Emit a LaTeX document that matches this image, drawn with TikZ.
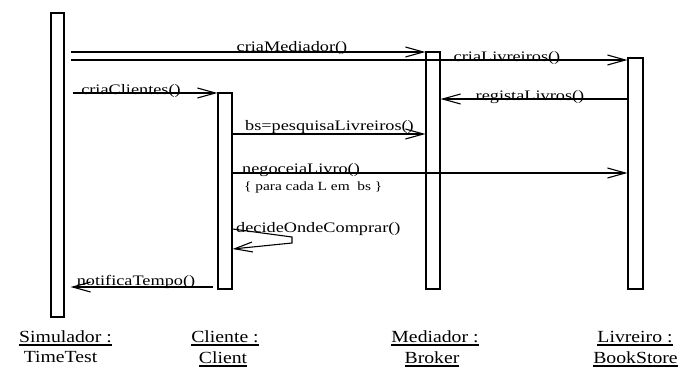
\documentclass[tikz,border=0pt]{standalone}
\usepackage{fontspec}
\setmainfont{Liberation Serif}
\newfontfamily\msgfont[FakeStretch=1.26]{Liberation Serif}
\newfontfamily\notefont[FakeStretch=1.23]{Liberation Serif}
\newfontfamily\objfont[FakeStretch=1.16]{Liberation Serif}
\usetikzlibrary{arrows.meta}
\newcommand\myul[1]{\setbox0\hbox{#1}\rlap{\rule[-3.6pt]{\wd0}{1.8pt}}\box0}
\begin{document}
\begin{tikzpicture}[x=1pt,y=-1pt,
  bar/.style={draw,line width=1.1pt,inner sep=0pt},
  msg/.style={draw,line width=1.1pt,-{Straight Barb[length=18pt,width=10pt]}},
  lbl/.style={font=\msgfont\fontsize{14.5}{16}\selectfont,inner sep=0pt,anchor=base},
  note/.style={font=\notefont\fontsize{12.5}{14}\selectfont,inner sep=0pt,anchor=base west},
  obj/.style={font=\objfont\fontsize{17}{19}\selectfont,inner sep=0pt,anchor=base}]
\useasboundingbox (0,0) rectangle (681,369);
% activation bars
\node[bar,minimum width=13pt,minimum height=304pt] (sim) at (57.5,165) {};
\node[bar,minimum width=14pt,minimum height=196pt] (cli) at (225,191) {};
\node[bar,minimum width=14pt,minimum height=237pt] (med) at (433,170.5) {};
\node[bar,minimum width=15pt,minimum height=231pt] (liv) at (635.5,173.5) {};
% messages
\draw[msg] ([xshift=6pt]sim.east |- 0,52) -- (med.west |- 0,52);
\node[lbl] (l1) at (292,52) {criaMediador()};
\draw[msg] ([xshift=6pt]sim.east |- 0,60) -- (liv.west |- 0,60);
\node[lbl] (l2) at (507,62) {criaLivreiros()};
\draw[msg] ([xshift=8pt]sim.east |- 0,93) -- (cli.west |- 0,93);
\node[lbl] (l3) at (131,95) {criaClientes()};
\draw[msg] (liv.west |- 0,99) -- (med.east |- 0,99);
\node[lbl] (l4) at (530,101) {registaLivros()};
\draw[msg] (cli.east |- 0,134) -- (med.west |- 0,134);
\node[lbl] (l5) at (329.5,131) {bs=pesquisaLivreiros()};
\draw[msg] (cli.east |- 0,173) -- (liv.west |- 0,173);
\node[lbl,anchor=base west] (l6) at (242,173) {negoceiaLivro()};
\node[note] (n6) at (244,190) {\{\ para cada L em\ \ bs \}};
\coordinate (sa) at (292,237);
\coordinate (sb) at (292,243);
\draw[msg] (cli.east |- 0,229) -- (sa) -- (sb) -- (cli.east |- 0,249);
\node[lbl,anchor=base west] (l7) at (236,232) {decideOndeComprar()};
\draw[msg] ([xshift=-4pt]cli.west |- 0,287) -- ([xshift=6pt]sim.east |- 0,287);
\node[lbl] (l8) at (136,285) {notificaTempo()};
% object labels
\node[obj] (o1a) at (65.5,342) {\myul{Simulador :}};
\node[obj] (o1b) at (60.5,362) {TimeTest};
\node[obj] (o2a) at (225,342) {\myul{Cliente :}};
\node[obj] (o2b) at (223,363) {\myul{Client}};
\node[obj] (o3a) at (435,342) {\myul{Mediador :}};
\node[obj] (o3b) at (432,363) {\myul{Broker}};
\node[obj] (o4a) at (635,342) {\myul{Livreiro :}};
\node[obj] (o4b) at (635.5,363) {\myul{BookStore}};
\end{tikzpicture}
\end{document}
